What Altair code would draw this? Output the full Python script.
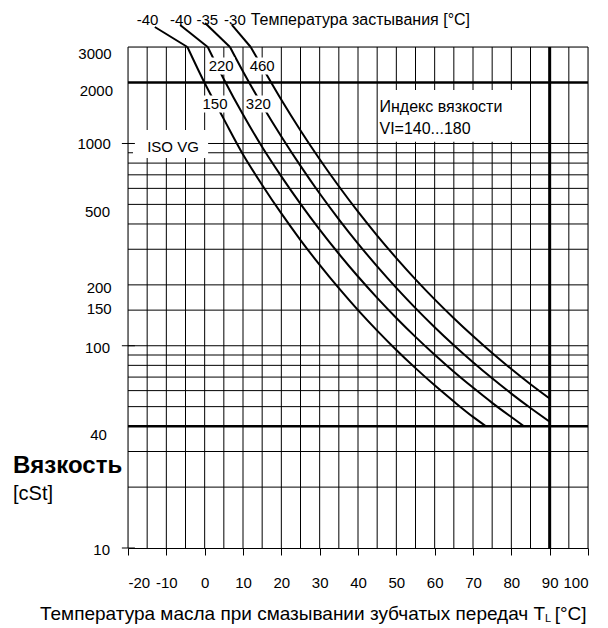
import altair as alt
import pandas as pd

FONT = "Liberation Sans"

# ---- viscosity curves (temperature °C, viscosity cSt) ----
grades = ["150", "220", "320", "460"]
t150 = [-4.5, 0, 5, 10, 15, 20, 25, 30, 35, 40, 45, 50, 55, 60, 65, 70, 73.4]
v150 = [3000, 1990, 1320, 883, 624, 451, 333, 251, 192.5, 150, 118.8, 95.3, 77.5, 63.7, 53.0, 44.5, 40]
t220 = [0.8, 5, 10, 15, 20, 25, 30, 35, 40, 45, 50, 55, 60, 65, 70, 75, 80, 83.3]
v220 = [3000, 2080, 1390, 961, 688, 503, 375, 285, 220, 172.5, 137.2, 110.6, 90.2, 74.4, 62.1, 52.2, 44.4, 40]
t320 = [6.6, 10, 15, 20, 25, 30, 35, 40, 45, 50, 55, 60, 65, 70, 75, 80, 85, 90]
v320 = [3000, 2270, 1547, 1083, 775, 566, 422, 320, 246.9, 193.3, 153.5, 123.5, 100.6, 82.9, 69.0, 58.0, 49.2, 42.1]
t460 = [12.0, 15, 20, 25, 30, 35, 40, 45, 50, 55, 60, 65, 70, 75, 80, 85, 90]
v460 = [3000, 2391, 1646, 1160, 836, 614.5, 460, 350.5, 271.3, 213, 169.6, 136.8, 111.6, 92.0, 76.7, 64.5, 54.8]

# ---- grid and ticks ----
grid_x = [-20, -15, -10, -5, 0, 5, 10, 15, 20, 25, 30, 35, 40, 45, 50, 55, 60, 65, 70, 75, 80, 85, 90, 95, 100]
grid_y = [20, 30, 40, 50, 60, 70, 80, 90, 100, 150, 200, 300, 400, 500, 600, 700, 800, 900, 1000, 2000, 3000]
thick_x = [90]
thick_y = [40, 2000]
x_ticks = [-20, -10, 0, 10, 20, 30, 40, 50, 60, 70, 80, 90, 100]
y_ticks = [10, 40, 100, 150, 200, 500, 1000, 2000, 3000]
y_label_x = [-24.7, -25.5, -24.7, -24.25, -24.25, -24.7, -24.5, -23.9, -24.25]
y_label_drop_px = [2, 9, 2, -1, 3, 8, 1, 8, 7]   # labels sit slightly below their lines
y_tick_marks = [1000, 100, 10]

# ---- annotations (data coordinates) ----
grade_x = [2.7, 4.3, 14.0, 15.0]
grade_y = [1568, 2416, 1568, 2416]
box_x = [-1.1, 0.5, 10.3, 11.3]
box_x2 = [6.5, 7.9, 17.8, 18.8]
box_y = [1423, 2193, 1423, 2193]
box_y2 = [1727, 2662, 1727, 2662]

pour_labels = ["-40", "-40", "-35", "-30"]
pour_x = [-14.9, -6.2, 0.7, 7.9]
pour_y = 4080
leader_x = [-13.0, -6.4, 0.1, 7.1]
leader_y = [3767, 3855, 3945, 3855]
leader_x2 = [-4.5, 0.8, 6.6, 12.0]
leader_y2 = [3000, 3000, 3000, 3000]

note_texts = ["ISO VG", "Индекс вязкости", "VI=140...180", "Температура застывания [°C]"]
note_x = [-15.0, 45.6, 45.6, 12.0]
note_y = [961, 1515, 1179, 4080]
note_fs = [15, 16, 16, 16]
note_box_x = [-18.7, 45.3]
note_box_x2 = [0.9, 80.7]
note_box_y = [848, 1020]
note_box_y2 = [1166, 1839]

xs = alt.Scale(domain=[-20, 100], nice=False, zero=False)
ys = alt.Scale(type="log", domain=[10, 3000], nice=False)

x_axis = alt.Axis(values=x_ticks, title=None, grid=False, domain=True, domainColor="black",
                  domainWidth=1, ticks=True, tickColor="black", tickSize=7, tickWidth=1,
                  labelPadding=20, labelFontSize=15, labelFont=FONT, labelColor="black",
                  labelExpr="'' + datum.value")
y_axis = alt.Axis(values=y_ticks, title=None, grid=False, domain=False, ticks=False, labels=False)


def X(field):
    return alt.X(field, type="quantitative", scale=xs, axis=x_axis)


def Y(field):
    return alt.Y(field, type="quantitative", scale=ys, axis=y_axis)


# data frames
vgrid = pd.DataFrame({"x": grid_x, "y0": 10, "y1": 3000})
vgrid["w"] = [3 if g in thick_x else 1 for g in grid_x]
hgrid = pd.DataFrame({"y": grid_y, "x0": -20, "x1": 100})
hgrid["w"] = [2.5 if g in thick_y else 1 for g in grid_y]

rows = []
for g, ts, vs in zip(grades, [t150, t220, t320, t460], [v150, v220, v320, v460]):
    for t, v in zip(ts, vs):
        rows.append({"grade": g, "t": t, "v": v})
curves = pd.DataFrame(rows)

PX_PER_DECADE = 501 / 2.4771
ylab = pd.DataFrame({
    "label": [str(v) for v in y_ticks],
    "x": y_label_x,
    "y": [v * 10 ** (-d / PX_PER_DECADE) for v, d in zip(y_ticks, y_label_drop_px)],
})

gbox = pd.DataFrame({"x": box_x, "x2": box_x2, "y": box_y, "y2": box_y2})
nbox = pd.DataFrame({"x": note_box_x, "x2": note_box_x2, "y": note_box_y, "y2": note_box_y2})
glab = pd.DataFrame({"label": grades, "x": grade_x, "y": grade_y})
plab = pd.DataFrame({"label": pour_labels, "x": pour_x, "y": pour_y})
notes = pd.DataFrame({"label": note_texts, "x": note_x, "y": note_y, "fs": note_fs})
leaders = pd.DataFrame({"x": leader_x, "y": leader_y, "x2": leader_x2, "y2": leader_y2})
yticks_df = pd.DataFrame({"y": y_tick_marks, "x0": -21.6, "x1": -18.2})

vlines = alt.Chart(vgrid).mark_rule(color="black").encode(
    x=X("x"), y=Y("y0"), y2="y1", strokeWidth=alt.StrokeWidth("w:Q", scale=None))
hlines = alt.Chart(hgrid).mark_rule(color="black").encode(
    y=Y("y"), x=X("x0"), x2="x1", strokeWidth=alt.StrokeWidth("w:Q", scale=None))
lines = alt.Chart(curves).mark_line(color="black", strokeWidth=2, interpolate="monotone").encode(
    x=X("t"), y=Y("v"), detail="grade:N", order="t:Q")
boxes1 = alt.Chart(gbox).mark_rect(fill="white").encode(x=X("x"), x2="x2", y=Y("y"), y2="y2")
boxes2 = alt.Chart(nbox).mark_rect(fill="white").encode(x=X("x"), x2="x2", y=Y("y"), y2="y2")
gtext = alt.Chart(glab).mark_text(font=FONT, fontSize=15, color="black", align="center",
                                  baseline="middle").encode(x=X("x"), y=Y("y"), text="label:N")
ptext = alt.Chart(plab).mark_text(font=FONT, fontSize=15, color="black", align="center",
                                  baseline="middle").encode(x=X("x"), y=Y("y"), text="label:N")
ntext = alt.Chart(notes).mark_text(font=FONT, color="black", align="left",
                                   baseline="middle").encode(
    x=X("x"), y=Y("y"), text="label:N", size=alt.Size("fs:Q", scale=None))
ltext = alt.Chart(ylab).mark_text(font=FONT, fontSize=15, color="black", align="right",
                                  baseline="middle").encode(x=X("x"), y=Y("y"), text="label:N")
lead = alt.Chart(leaders).mark_rule(color="black", strokeWidth=2).encode(
    x=X("x"), y=Y("y"), x2="x2", y2="y2")
ytk = alt.Chart(yticks_df).mark_rule(color="black", strokeWidth=1).encode(
    y=Y("y"), x=X("x0"), x2="x1")

# axis titles
ytitle = pd.DataFrame({"label": ["Вязкость"], "x": [-50.0], "y": [25.4]})
ytitle2 = pd.DataFrame({"label": ["[cSt]"], "x": [-50.0], "y": [18.5]})
xtitle = pd.DataFrame({"label": ["Температура масла при смазывании зубчатых передач T"],
                       "x": [-42.96], "y": [4.72]})
xsub = pd.DataFrame({"label": ["L"], "x": [88.8], "y": [4.46]})
xunit = pd.DataFrame({"label": ["[°C]"], "x": [91.3], "y": [4.72]})

yt1 = alt.Chart(ytitle).mark_text(font=FONT, fontSize=24, fontWeight="bold", color="black",
                                  align="left", baseline="middle").encode(x=X("x"), y=Y("y"), text="label:N")
yt2 = alt.Chart(ytitle2).mark_text(font=FONT, fontSize=20, color="black",
                                   align="left", baseline="middle").encode(x=X("x"), y=Y("y"), text="label:N")
xt1 = alt.Chart(xtitle).mark_text(font=FONT, fontSize=19, color="black",
                                  align="left", baseline="middle").encode(x=X("x"), y=Y("y"), text="label:N")
xt2 = alt.Chart(xsub).mark_text(font=FONT, fontSize=11, color="black",
                                align="left", baseline="middle").encode(x=X("x"), y=Y("y"), text="label:N")
xt3 = alt.Chart(xunit).mark_text(font=FONT, fontSize=19, color="black",
                                 align="left", baseline="middle").encode(x=X("x"), y=Y("y"), text="label:N")

chart = alt.layer(vlines, hlines, lines, boxes1, boxes2, gtext, ptext, ntext, ltext, lead, ytk,
                  yt1, yt2, xt1, xt2, xt3).properties(
    width=460, height=501,
    autosize=alt.AutoSizeParams(type="none"),
    padding={"left": 120, "top": 39, "right": 12, "bottom": 78},
).configure_view(stroke=None).configure(background="white")

chart.save("out.html", embed_options={"renderer": "svg", "actions": False})
